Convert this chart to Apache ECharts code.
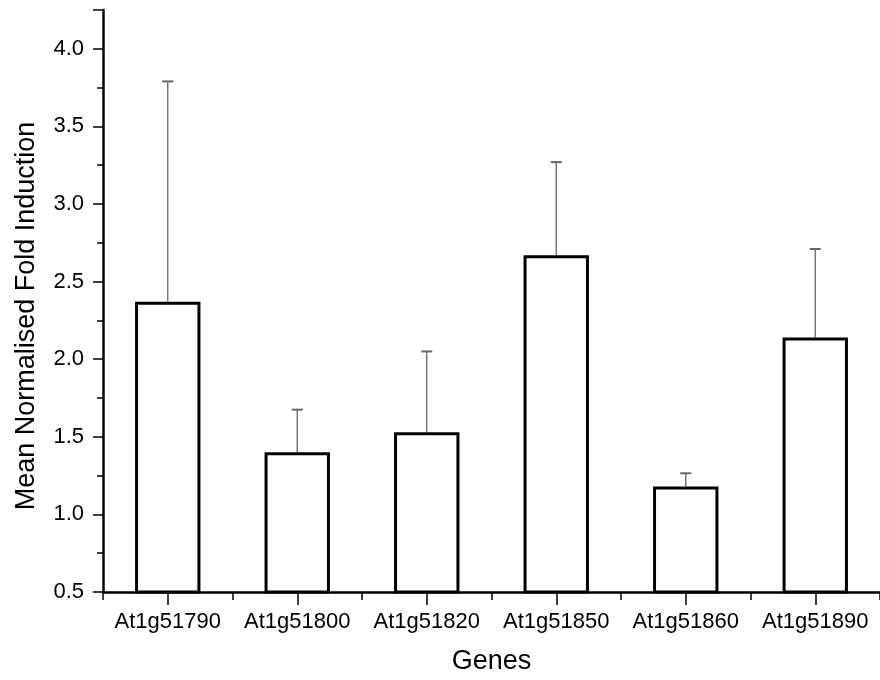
<!DOCTYPE html>
<html>
<head>
<meta charset="utf-8">
<script src="https://cdn.jsdelivr.net/npm/echarts@6/dist/echarts.min.js"></script>
<style>html,body{margin:0;padding:0;background:#fff;}#c{width:880px;height:680px;}</style>
</head>
<body>
<div id="c"></div>
<script>
var genes = ['At1g51790','At1g51800','At1g51820','At1g51850','At1g51860','At1g51890'];
var means = [2.37, 1.40, 1.53, 2.67, 1.18, 2.14];
var errors = [1.42, 0.275, 0.52, 0.60, 0.085, 0.57];
var yTicks = [0.5, 1.0, 1.5, 2.0, 2.5, 3.0, 3.5, 4.0];

var chart = echarts.init(document.getElementById('c'));
var font = '"Liberation Sans", Arial, sans-serif';
var errData = genes.map(function(g, i){ return [i, means[i], means[i] + errors[i]]; });

chart.setOption({
  animation: false,
  grid: {left: 103, top: 10, bottom: 86, width: 783},
  xAxis: [{
    type: 'category', data: genes, position: 'bottom',
    name: 'Genes', nameLocation: 'middle', nameGap: 56,
    nameTextStyle: {fontFamily: font, fontSize: 27, color: '#000'},
    axisLine: {lineStyle: {color: '#000', width: 2.5}},
    axisTick: {show: true, interval: 0, length: 8, lineStyle: {color: '#000', width: 1.5}},
    axisLabel: {interval: 0, fontFamily: font, fontSize: 22, color: '#000', margin: 19}
  }, {
    type: 'category', data: genes, position: 'bottom',
    axisLine: {show: false},
    axisTick: {show: true, interval: 0, alignWithLabel: true, length: 13, lineStyle: {color: '#000', width: 1.5}},
    axisLabel: {show: false}
  }],
  yAxis: {
    type: 'value', min: 0.5, max: 4.25, interval: 0.5,
    name: 'Mean Normalised Fold Induction', nameLocation: 'middle', nameGap: 63,
    nameTextStyle: {fontFamily: font, fontSize: 27, color: '#000', padding: [0, 30, 0, 0]},
    axisLine: {show: true, lineStyle: {color: '#000', width: 2.5}},
    axisTick: {show: true, length: 10, lineStyle: {color: '#000', width: 1.5}},
    minorTick: {show: true, splitNumber: 2, length: 6, lineStyle: {color: '#000', width: 1.5}},
    splitLine: {show: false},
    axisLabel: {fontFamily: font, fontSize: 22, color: '#000', margin: 19, showMaxLabel: false,
      formatter: function(v){ return yTicks.indexOf(Math.round(v*100)/100) >= 0 ? v.toFixed(1) : ''; }}
  },
  series: [{
    type: 'bar', data: means, barWidth: '50.5%', xAxisIndex: 0,
    itemStyle: {color: '#fff', borderColor: '#000', borderWidth: 3}
  }, {
    type: 'custom', xAxisIndex: 0, data: errData, z: 1,
    renderItem: function(params, api){
      var base = api.coord([api.value(0), api.value(1)]);
      var top = api.coord([api.value(0), api.value(2)]);
      return {type: 'group', children: [
        {type: 'line', shape: {x1: base[0], y1: base[1], x2: top[0], y2: top[1]}, style: {stroke: '#666', lineWidth: 1.3}},
        {type: 'line', shape: {x1: top[0]-5.5, y1: top[1], x2: top[0]+5.5, y2: top[1]}, style: {stroke: '#666', lineWidth: 2}}
      ]};
    }
  }]
});
</script>
</body>
</html>
